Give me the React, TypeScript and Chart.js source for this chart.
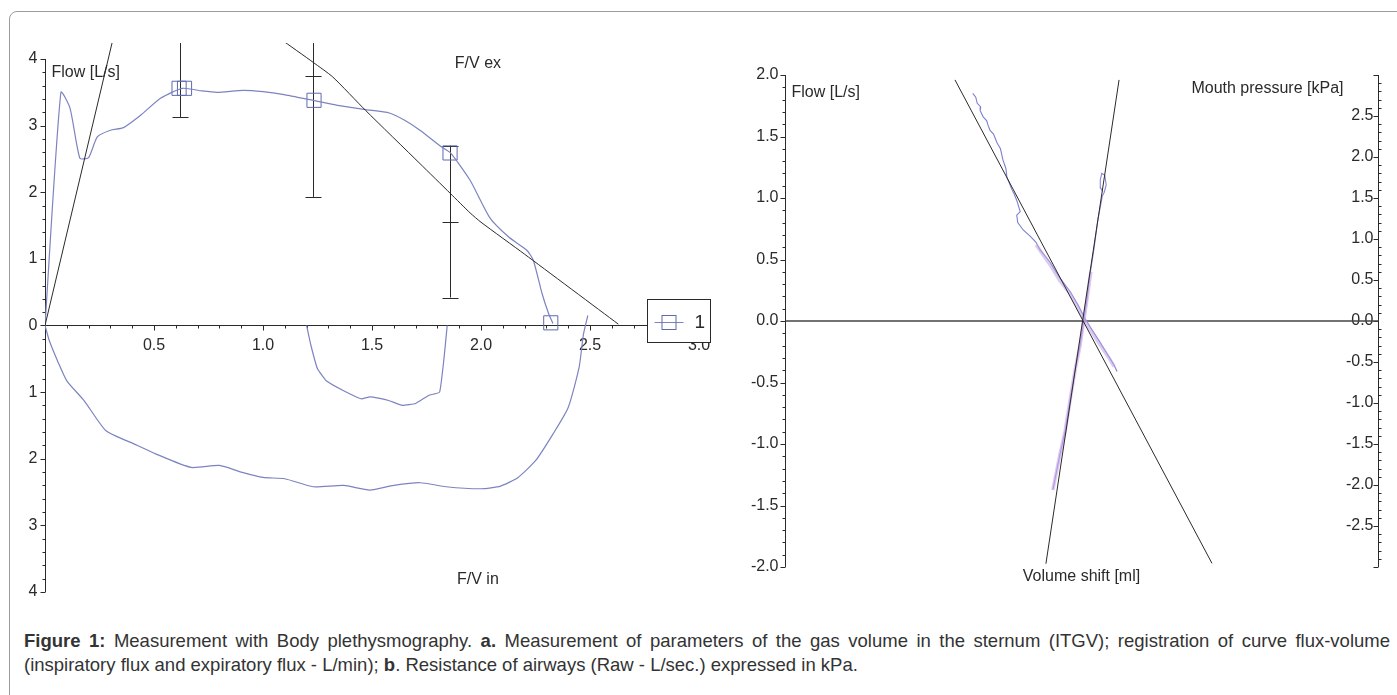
import React, { useEffect, useRef } from "react";
import { Chart, registerables } from "chart.js";
Chart.register(...registerables);

// ---------- Panel a: flow-volume loop ----------
const expVol = [0, 0.073, 0.115, 0.16, 0.2, 0.24, 0.3, 0.36, 0.44, 0.53, 0.63, 0.72, 0.79, 0.91, 1.0, 1.09, 1.23, 1.32, 1.35, 1.47, 1.58, 1.65, 1.72, 1.81, 1.86, 1.95, 2.04, 2.13, 2.21, 2.24, 2.28, 2.31, 2.33];
const expFlow = [0, 3.5, 3.26, 2.51, 2.52, 2.83, 2.93, 2.97, 3.16, 3.41, 3.56, 3.52, 3.5, 3.53, 3.51, 3.47, 3.38, 3.32, 3.3, 3.24, 3.19, 3.08, 2.93, 2.7, 2.59, 2.18, 1.62, 1.32, 1.13, 0.98, 0.48, 0.18, 0.03];

const inspBigVol = [0.0, 0.02, 0.06, 0.1, 0.18, 0.28, 0.41, 0.51, 0.67, 0.8, 0.9, 1.0, 1.1, 1.23, 1.37, 1.49, 1.6, 1.72, 1.84, 2.0, 2.09, 2.17, 2.25, 2.33, 2.4, 2.45, 2.47, 2.49];
const inspBigFlow = [0.0, -0.23, -0.55, -0.83, -1.13, -1.58, -1.78, -1.93, -2.13, -2.1, -2.2, -2.28, -2.3, -2.42, -2.4, -2.47, -2.4, -2.36, -2.42, -2.45, -2.41, -2.28, -2.03, -1.63, -1.23, -0.63, -0.13, 0.15];

const inspSmallVol = [1.2, 1.22, 1.25, 1.29, 1.37, 1.45, 1.49, 1.53, 1.58, 1.64, 1.7, 1.76, 1.81, 1.83, 1.845];
const inspSmallFlow = [0, -0.3, -0.65, -0.83, -0.98, -1.1, -1.07, -1.09, -1.13, -1.2, -1.17, -1.05, -1.0, -0.5, 0];

const fitRiseVol = [0, 0.33];
const fitRiseFlow = [0, 4.55];
const fitFallVol = [1.08, 1.23, 1.32, 1.47, 1.72, 1.86, 1.95, 2.0, 2.2, 2.63];
const fitFallFlow = [4.3, 3.95, 3.73, 3.23, 2.43, 1.98, 1.69, 1.55, 1.07, 0.02];

const markerVol = [0.615, 0.64, 1.234, 1.858, 2.32];
const markerFlow = [3.56, 3.56, 3.38, 2.59, 0.04];

const errVol = [0.62, 1.23, 1.86];
const errTop = [4.6, 4.6, 2.7];
const errBottom = [3.13, 1.93, 0.42];
const errCaps = [[3.13], [3.74, 1.93], [2.7, 1.55, 0.42]];

const leftYTicks = [-4, -3, -2, -1, 0, 1, 2, 3, 4];
const leftXTicks = [0.5, 1.0, 1.5, 2.0, 2.5, 3.0];

// ---------- Panel b: resistance / ITGV loops ----------
const rawFitShift = [-25.6, 26.4];
const rawFitFlow = [1.96, -1.97];
const itgvFitShift = [7.6, -7.2];
const itgvFitPress = [2.94, -2.96];

const rawShift = [-22.0, -21.4, -21.1, -20.4, -20.5, -19.9, -19.2, -18.9, -18.5, -17.8, -17.5, -17.1, -16.4, -15.9, -15.3, -15.1, -14.1, -13.6, -13.1, -12.4, -13.1, -12.9, -11.8, -10.4, -9.2, -8.4, -6.4, -4.4, -2.3, -0.7, 0.7, 2.1, 3.7, 5.4, 6.6, 7.2];
const rawFlow = [1.85, 1.82, 1.77, 1.74, 1.71, 1.66, 1.63, 1.59, 1.55, 1.52, 1.49, 1.45, 1.4, 1.31, 1.24, 1.17, 1.07, 1.03, 0.98, 0.89, 0.86, 0.8, 0.74, 0.69, 0.64, 0.58, 0.48, 0.35, 0.24, 0.13, 0.02, -0.07, -0.17, -0.28, -0.36, -0.41];
const rawHaloShift = [-9.2, -6.4, -4.4, -2.3, -0.7, 0.7, 2.1, 3.7, 5.4, 6.6];
const rawHaloFlow = [0.62, 0.46, 0.33, 0.22, 0.11, 0.0, -0.09, -0.19, -0.29, -0.37];

const itgvShift = [4.3, 3.9, 3.8, 4.1, 4.7, 5.0, 4.6, 4.2, 3.3, 2.5, 1.7, 1.1, 0.5, -0.3, -1.3, -2.3, -3.3, -4.4, -5.2, -5.8];
const itgvPress = [1.58, 1.62, 1.72, 1.8, 1.78, 1.66, 1.57, 1.52, 1.23, 0.87, 0.56, 0.26, 0.02, -0.3, -0.6, -0.96, -1.34, -1.64, -1.88, -2.06];
const itgvHaloShift = [1.9, 1.1, 0.5, -0.3, -1.3, -2.3, -3.3, -4.4, -5.2, -5.8];
const itgvHaloPress = [0.6, 0.26, 0.02, -0.3, -0.6, -0.96, -1.34, -1.64, -1.88, -2.06];

const rightYTicks = [-2.0, -1.5, -1.0, -0.5, 0.0, 0.5, 1.0, 1.5, 2.0];
const rightY2Ticks = [-2.5, -2.0, -1.5, -1.0, -0.5, 0.0, 0.5, 1.0, 1.5, 2.0, 2.5];

const FONT = "'Liberation Sans', Arial, sans-serif";
const INK = "#2a2a2a";
const CURVE = "#7c84bf";
const MARK = "#5f6aae";

const pts = (xs: number[], ys: number[]) => xs.map((v, i) => ({ x: v, y: ys[i] }));

const range = (from: number, to: number, step: number) => {
  const out: number[] = [];
  const n = Math.round((to - from) / step);
  for (let i = 0; i <= n; i++) out.push(from + i * step);
  return out;
};

const leftDecor = {
  id: "leftDecor",
  beforeDatasetsDraw(chart: any) {
    const { ctx, chartArea: a, scales } = chart;
    const x = scales.x, y = scales.y;
    const X = (v: number) => x.getPixelForValue(v);
    const Y = (v: number) => y.getPixelForValue(v);
    ctx.save();
    ctx.strokeStyle = INK;
    ctx.fillStyle = INK;
    ctx.lineWidth = 1;
    const x0 = Math.round(X(0)) + 0.5;
    const y0 = Math.round(Y(0)) + 0.5;
    // y axis
    ctx.beginPath();
    ctx.moveTo(x0, Y(4));
    ctx.lineTo(x0, Y(-4));
    ctx.stroke();
    ctx.beginPath();
    range(-4, 4, 0.2).forEach((v) => {
      const py = Math.round(Y(v)) + 0.5;
      const major = Math.abs(v - Math.round(v)) < 1e-6;
      ctx.moveTo(x0 - (major ? 5 : 3), py);
      ctx.lineTo(x0, py);
    });
    ctx.stroke();
    ctx.font = `16px ${FONT}`;
    ctx.textAlign = "right";
    ctx.textBaseline = "middle";
    leftYTicks.forEach((v) => ctx.fillText(String(Math.abs(v)), x0 - 8, Y(v)));
    // x axis
    ctx.beginPath();
    ctx.moveTo(x0, y0);
    ctx.lineTo(X(3.0), y0);
    ctx.stroke();
    ctx.beginPath();
    range(0.1, 3.0, 0.1).forEach((v) => {
      const px = Math.round(X(v)) + 0.5;
      const major = Math.abs(v * 2 - Math.round(v * 2)) < 1e-6;
      ctx.moveTo(px, y0);
      ctx.lineTo(px, y0 + (major ? 5 : 3));
    });
    ctx.stroke();
    ctx.textAlign = "center";
    leftXTicks.forEach((v) => ctx.fillText(v.toFixed(1), X(v), y0 + 20));
    // error bars
    ctx.save();
    ctx.beginPath();
    ctx.rect(a.left, a.top, a.right - a.left, a.bottom - a.top);
    ctx.clip();
    ctx.beginPath();
    errVol.forEach((v, i) => {
      const px = Math.round(X(v)) + 0.5;
      ctx.moveTo(px, Y(errTop[i]));
      ctx.lineTo(px, Y(errBottom[i]));
      errCaps[i].forEach((c) => {
        const py = Math.round(Y(c)) + 0.5;
        ctx.moveTo(px - 8, py);
        ctx.lineTo(px + 8, py);
      });
    });
    ctx.stroke();
    ctx.restore();
    // labels
    ctx.textAlign = "left";
    ctx.font = `16px ${FONT}`;
    ctx.fillText("Flow [L/s]", x0 + 6, Y(3.8));
    ctx.fillText("F/V ex", X(1.88), Y(3.93));
    ctx.fillText("F/V in", X(1.89), Y(-3.82));
    ctx.restore();
  },
  afterDraw(chart: any) {
    const { ctx, chartArea: a, scales } = chart;
    const y0 = Math.round(scales.y.getPixelForValue(0)) + 0.5;
    const bx = Math.round(a.right - 52) + 0.5;
    const by = y0 - 26;
    ctx.save();
    ctx.fillStyle = "#fff";
    ctx.strokeStyle = INK;
    ctx.lineWidth = 1;
    ctx.fillRect(bx, by, 63, 43);
    ctx.strokeRect(bx, by, 63, 43);
    ctx.strokeStyle = CURVE;
    ctx.beginPath();
    ctx.moveTo(bx + 7, y0 - 3);
    ctx.lineTo(bx + 36, y0 - 3);
    ctx.stroke();
    ctx.strokeStyle = MARK;
    ctx.strokeRect(bx + 14.5, y0 - 10, 14, 14);
    ctx.fillStyle = INK;
    ctx.font = `19px ${FONT}`;
    ctx.textAlign = "left";
    ctx.textBaseline = "middle";
    ctx.fillText("1", bx + 47, y0 - 3);
    ctx.restore();
  },
};

const rightDecor = {
  id: "rightDecor",
  beforeDatasetsDraw(chart: any) {
    const { ctx, chartArea: a, scales } = chart;
    const x = scales.x, y = scales.y, y2 = scales.y2;
    const Y = (v: number) => y.getPixelForValue(v);
    const Y2 = (v: number) => y2.getPixelForValue(v);
    ctx.save();
    ctx.strokeStyle = INK;
    ctx.fillStyle = INK;
    ctx.lineWidth = 1;
    const xl = Math.round(a.left) + 0.5;
    const xr = Math.round(a.right) + 0.5;
    // left axis
    ctx.beginPath();
    ctx.moveTo(xl, Y(2));
    ctx.lineTo(xl, Y(-2));
    range(-2, 2, 0.1).forEach((v) => {
      const py = Math.round(Y(v)) + 0.5;
      const major = Math.abs(v * 2 - Math.round(v * 2)) < 1e-6;
      ctx.moveTo(xl - (major ? 5 : 3), py);
      ctx.lineTo(xl, py);
    });
    ctx.stroke();
    // right axis
    ctx.beginPath();
    ctx.moveTo(xr, Y2(3));
    ctx.lineTo(xr, Y2(-3));
    range(-3, 3, 0.1).forEach((v) => {
      const py = Math.round(Y2(v)) + 0.5;
      const major = Math.abs(v * 2 - Math.round(v * 2)) < 1e-6;
      if (major) {
        ctx.moveTo(xr - 5, py);
        ctx.lineTo(xr, py);
      } else {
        ctx.moveTo(xr, py);
        ctx.lineTo(xr + 3, py);
      }
    });
    ctx.stroke();
    ctx.font = `16px ${FONT}`;
    ctx.textBaseline = "middle";
    ctx.textAlign = "right";
    rightYTicks.forEach((v) => ctx.fillText(v.toFixed(1), xl - 7, Y(v)));
    rightY2Ticks.forEach((v) => ctx.fillText(v.toFixed(1), xr - 5, Y2(v)));
    // zero line
    ctx.strokeStyle = "#444";
    ctx.lineWidth = 1.5;
    ctx.beginPath();
    ctx.moveTo(xl, Y(0));
    ctx.lineTo(xr, Y(0));
    ctx.stroke();
    // labels
    ctx.textAlign = "left";
    ctx.fillText("Flow [L/s]", xl + 6, Y(1.86));
    ctx.textAlign = "right";
    ctx.fillText("Mouth pressure [kPa]", xr - 35, Y2(2.84));
    ctx.textAlign = "center";
    ctx.fillText("Volume shift [ml]", x.getPixelForValue(0), a.bottom + 10);
    ctx.restore();
  },
};

const lineDs = (data: any[], color: string, width: number, yAxisID = "y", tension = 0) => ({
  data,
  showLine: true,
  borderColor: color,
  borderWidth: width,
  pointRadius: 0,
  fill: false,
  tension,
  yAxisID,
});

export default function App() {
  const leftRef = useRef<HTMLCanvasElement>(null);
  const rightRef = useRef<HTMLCanvasElement>(null);

  useEffect(() => {
    const left = new Chart(leftRef.current!, {
      type: "scatter",
      data: {
        datasets: [
          lineDs(pts(fitRiseVol, fitRiseFlow), INK, 1),
          lineDs(pts(fitFallVol, fitFallFlow), INK, 1, "y", 0.2),
          lineDs(pts(expVol, expFlow), CURVE, 1.2, "y", 0.2),
          lineDs(pts(inspBigVol, inspBigFlow), CURVE, 1.2, "y", 0.2),
          lineDs(pts(inspSmallVol, inspSmallFlow), CURVE, 1.2, "y", 0.1),
          {
            data: pts(markerVol, markerFlow),
            showLine: false,
            pointStyle: "rect",
            pointRadius: 10,
            borderColor: MARK,
            borderWidth: 1,
            backgroundColor: "rgba(0,0,0,0)",
          } as any,
        ],
      },
      options: {
        animation: false,
        responsive: false,
        events: [],
        layout: { padding: { left: 45, right: 21, top: 43, bottom: 18 } },
        plugins: { legend: { display: false }, tooltip: { enabled: false } },
        scales: {
          x: { type: "linear", min: 0, max: 3.0, display: false },
          y: { type: "linear", min: -4, max: 4.24, display: false },
        },
      },
      plugins: [leftDecor],
    });

    const right = new Chart(rightRef.current!, {
      type: "scatter",
      data: {
        datasets: [
          lineDs(pts(rawFitShift, rawFitFlow), INK, 1),
          lineDs(pts(itgvFitShift, itgvFitPress), INK, 1, "y2"),
          lineDs(pts(rawHaloShift, rawHaloFlow), "rgba(190,160,230,0.55)", 3.5),
          lineDs(pts(itgvHaloShift, itgvHaloPress), "rgba(200,165,232,0.6)", 3.5, "y2"),
          lineDs(pts(rawShift, rawFlow), "#7a80d0", 1.1),
          lineDs(pts(itgvShift, itgvPress), "#8a86d6", 1.1, "y2"),
        ],
      },
      options: {
        animation: false,
        responsive: false,
        events: [],
        layout: { padding: { left: 65, right: 19, top: 75, bottom: 43 } },
        plugins: { legend: { display: false }, tooltip: { enabled: false } },
        scales: {
          x: { type: "linear", min: -60, max: 60, display: false },
          y: { type: "linear", min: -2, max: 2, display: false },
          y2: { type: "linear", min: -3, max: 3, display: false },
        },
      },
      plugins: [rightDecor],
    });

    return () => {
      left.destroy();
      right.destroy();
    };
  }, []);

  return (
    <div
      style={{
        position: "fixed",
        left: 0,
        top: 0,
        width: 1397,
        height: 695,
        overflow: "hidden",
        background: "#fff",
        fontFamily: FONT,
      }}
    >
      <div
        style={{
          position: "absolute",
          left: 9,
          top: 11,
          width: 1420,
          height: 720,
          border: "1px solid #9c9c9c",
          borderRadius: 8,
        }}
      />
      <canvas ref={leftRef} width={720} height={610} style={{ position: "absolute", left: 0, top: 0 }} />
      <canvas ref={rightRef} width={677} height={610} style={{ position: "absolute", left: 720, top: 0 }} />
      <div
        style={{
          position: "absolute",
          left: 24,
          top: 629,
          width: 1366,
          fontSize: 18.5,
          lineHeight: "24px",
          color: "#333",
        }}
      >
        <div style={{ textAlign: "justify", textAlignLast: "justify", whiteSpace: "nowrap" }}>
          <b>Figure 1:</b> Measurement with Body plethysmography. <b>a.</b> Measurement of parameters of the gas volume in the sternum (ITGV); registration of curve flux-volume
        </div>
        <div>
          (inspiratory flux and expiratory flux - L/min); <b>b</b>. Resistance of airways (Raw - L/sec.) expressed in kPa.
        </div>
      </div>
    </div>
  );
}
